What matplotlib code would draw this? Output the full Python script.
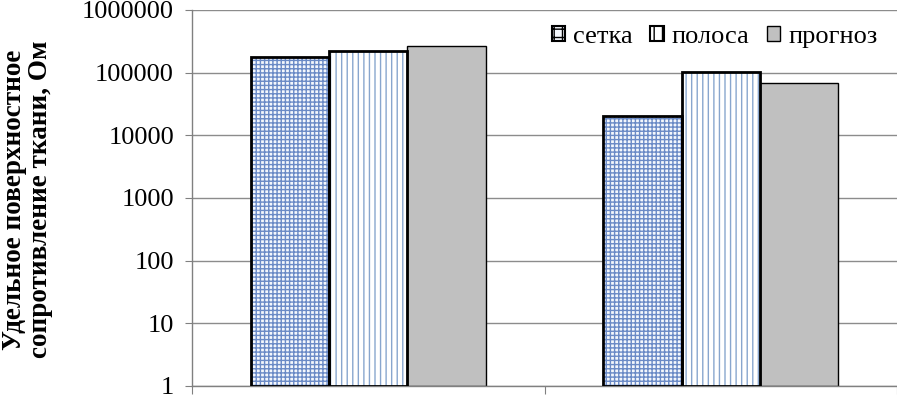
import matplotlib
matplotlib.use("Agg")
import matplotlib.pyplot as plt
import numpy as np
from matplotlib.patches import Patch
from matplotlib.ticker import FixedLocator, NullFormatter

categories = ["1", "2"]
series_names = ["сетка", "полоса", "прогноз"]
setka = [176000, 20300]
polosa = [220000, 102000]
prognoz = [265000, 68000]
yticks = [1, 10, 100, 1000, 10000, 100000, 1000000]
ytick_labels = ["1", "10", "100", "1000", "10000", "100000", "1000000"]
ylabel = "Удельное поверхностное\nсопротивление ткани, Ом"

plt.rcParams['font.family'] = ['Liberation Serif', 'DejaVu Serif']
plt.rcParams['hatch.linewidth'] = 1.0

fig = plt.figure(figsize=(8.97, 3.95), dpi=100)
ax = fig.add_axes([192/897, 1 - 386/395, 1 - 192/897, 376/395])

x = np.arange(len(categories))
w = 0.222
grid_blue = '#6A8AC6'
stripe_blue = '#88A6CE'

# сетка
ax.bar(x - w, setka, w, bottom=1, color='#F4F7FC', edgecolor=grid_blue, hatch='+' * 4, linewidth=0, zorder=2)
ax.bar(x - w, setka, w, bottom=1, fill=False, edgecolor='black', linewidth=2, zorder=3)
# полоса
ax.bar(x, polosa, w, bottom=1, color='white', edgecolor=stripe_blue, hatch='|' * 3, linewidth=0, zorder=2)
ax.bar(x, polosa, w, bottom=1, fill=False, edgecolor='black', linewidth=2, zorder=3)
# прогноз
ax.bar(x + w, prognoz, w, bottom=1, color='#C0C0C0', edgecolor='black', linewidth=1, zorder=2)

ax.set_yscale('log')
ax.set_ylim(1, 1000000)
ax.set_xlim(-0.5, 1.5)
ax.yaxis.set_major_locator(FixedLocator(yticks))
ax.set_yticklabels(ytick_labels)
ax.yaxis.set_minor_formatter(NullFormatter())
ax.tick_params(axis='y', which='minor', length=0)
ax.tick_params(axis='y', which='major', labelsize=19, length=5, color='#808080', pad=8)
ax.set_xticks([-0.5, 0.5, 1.5])
ax.set_xticklabels(['', '', ''])
ax.tick_params(axis='x', length=6, color='#808080')

ax.grid(axis='y', which='major', color='#8C8C8C', linewidth=1, zorder=0)
ax.set_axisbelow(True)
for s in ['top', 'right']:
    ax.spines[s].set_visible(False)
for s in ['left', 'bottom']:
    ax.spines[s].set_color('#808080')
    ax.spines[s].set_linewidth(1)

fig.text(0.031, 0.495, ylabel, rotation=90, ha='center', va='center', fontsize=19.5, fontweight='bold', linespacing=1.05)

handles = [
    Patch(facecolor='#F4F7FC', edgecolor='black', hatch='++', linewidth=1.5),
    Patch(facecolor='white', edgecolor='black', hatch='||', linewidth=1.5),
    Patch(facecolor='#C0C0C0', edgecolor='black', linewidth=1),
]
ax.legend(handles, series_names, loc='upper right', bbox_to_anchor=(0.995, 1.0), ncol=3, frameon=False,
          fontsize=19, handlelength=0.5, handleheight=0.5, handletextpad=0.3, columnspacing=0.68,
          borderaxespad=0.2)

fig.savefig('out.png', dpi=100)
